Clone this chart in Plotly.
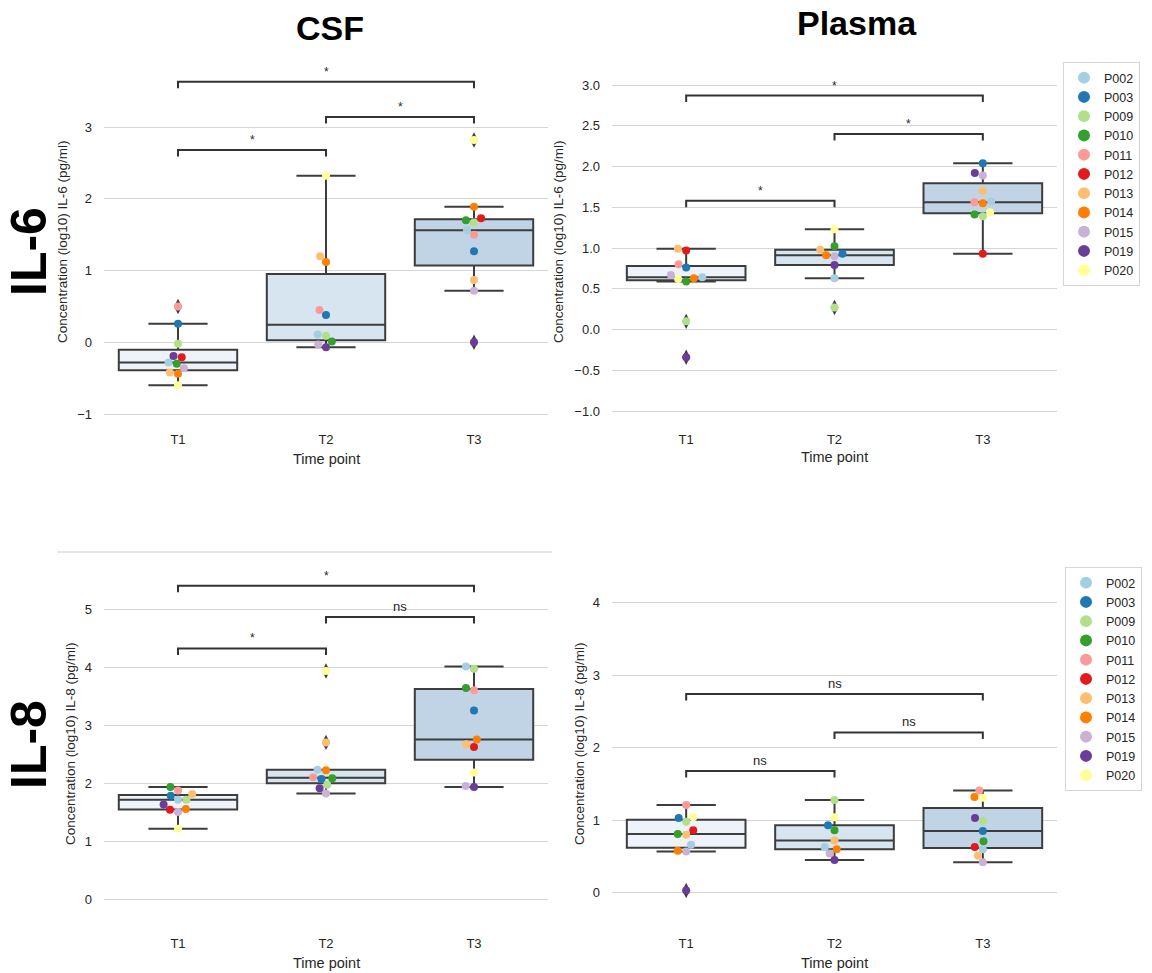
import numpy as np
import plotly.graph_objects as go

# ---------------- data ----------------
PARTICIPANTS = ["P002", "P003", "P009", "P010", "P011", "P012", "P013", "P014", "P015", "P019", "P020"]
TIME_POINTS = ["T1", "T2", "T3"]

# values in participant order (None = missing sample)
CSF_IL6_T1 = [-0.28, 0.26, -0.02, -0.30, 0.50, -0.21, -0.42, -0.44, -0.36, -0.19, -0.60]
CSF_IL6_T2 = [0.11, 0.38, 0.09, 0.01, 0.45, None, 1.20, 1.12, -0.03, -0.07, 2.32]
CSF_IL6_T3 = [1.56, 1.27, 1.67, 1.70, 1.50, 1.73, 0.87, 1.89, 0.72, 0.00, 2.82]

PLASMA_IL6_T1 = [0.64, 0.76, 0.10, 0.59, 0.80, 0.97, 0.99, 0.63, 0.67, -0.34, 0.62]
PLASMA_IL6_T2 = [0.63, 0.93, 0.27, 1.02, None, None, 0.98, 0.91, 0.90, 0.79, 1.23]
PLASMA_IL6_T3 = [1.57, 2.04, 1.39, 1.41, 1.56, 0.93, 1.70, 1.55, 1.89, 1.92, 1.44]

CSF_IL8_T1 = [1.71, 1.78, 1.71, 1.93, 1.87, 1.54, 1.81, 1.55, 1.50, 1.63, 1.21]
CSF_IL8_T2 = [2.23, 2.07, 1.97, 2.08, 2.10, None, 2.70, 2.22, 1.82, 1.91, 3.93]
CSF_IL8_T3 = [4.01, 3.25, 3.97, 3.64, 3.60, 2.62, 2.67, 2.75, 1.95, 1.93, 2.18]

PLASMA_IL8_T1 = [0.66, 1.03, 0.98, 0.81, 1.21, 0.86, 0.80, 0.58, 0.57, 0.03, 1.04]
PLASMA_IL8_T2 = [0.63, 0.93, 1.28, 0.86, None, None, 0.72, 0.60, 0.54, 0.45, 1.04]
PLASMA_IL8_T3 = [0.60, 0.85, 0.99, 0.71, 1.41, 0.63, 0.51, 1.32, 0.42, 1.03, 1.31]

# significance brackets: (from, to, level, label)
BRACKETS_CSF_IL6 = [(0, 1, 2.68, "*"), (1, 2, 3.14, "*"), (0, 2, 3.63, "*")]
BRACKETS_PLASMA_IL6 = [(0, 1, 1.58, "*"), (1, 2, 2.40, "*"), (0, 2, 2.87, "*")]
BRACKETS_CSF_IL8 = [(0, 1, 4.32, "*"), (1, 2, 4.86, "ns"), (0, 2, 5.40, "*")]
BRACKETS_PLASMA_IL8 = [(0, 1, 1.68, "ns"), (1, 2, 2.21, "ns"), (0, 2, 2.74, "ns")]

# ---------------- style ----------------
W, H = 1152, 973
COLORS = ["#a6cee3", "#1f78b4", "#b2df8a", "#33a02c", "#fb9a99", "#e31a1c",
          "#fdbf6f", "#ff7f00", "#cab2d6", "#6a3d9a", "#ffff99"]
BOX_FILLS = ["#edf3f8", "#d6e5f0", "#c1d4e5"]
LINE_DARK = "#3d3d3d"
TEXT = "#262626"
GRID = "#d6d6d6"
FONT = "Liberation Sans, Arial, sans-serif"
POINT_D = 8.0
CAT_PX = 148.0
TIP_PX = 6.5


def fx(px):
    return px / W


def fy(py):
    return 1 - py / H


PANELS = [
    dict(data=[CSF_IL6_T1, CSF_IL6_T2, CSF_IL6_T3], xdom=(104, 548), ydom=(60, 430),
         zero=342.3, ppu=71.75, dtick=1, fmt="", br=BRACKETS_CSF_IL6,
         ylabel="Concentration (log10) IL-6 (pg/ml)", ylabx=62, legend=None, xty=459),
    dict(data=[PLASMA_IL6_T1, PLASMA_IL6_T2, PLASMA_IL6_T3], xdom=(612, 1057), ydom=(60, 430),
         zero=329.5, ppu=81.5, dtick=0.5, fmt=".1f", br=BRACKETS_PLASMA_IL6,
         ylabel="Concentration (log10) IL-6 (pg/ml)", ylabx=558, legend="legend", xty=457),
    dict(data=[CSF_IL8_T1, CSF_IL8_T2, CSF_IL8_T3], xdom=(104, 548), ydom=(560, 934),
         zero=899.0, ppu=58.0, dtick=1, fmt="", br=BRACKETS_CSF_IL8,
         ylabel="Concentration (log10) IL-8 (pg/ml)", ylabx=70, legend=None, xty=963),
    dict(data=[PLASMA_IL8_T1, PLASMA_IL8_T2, PLASMA_IL8_T3], xdom=(612, 1057), ydom=(560, 934),
         zero=892.7, ppu=72.5, dtick=1, fmt="", br=BRACKETS_PLASMA_IL8,
         ylabel="Concentration (log10) IL-8 (pg/ml)", ylabx=579, legend="legend2", xty=963),
]


def swarm_offsets(values, ppu, d=POINT_D):
    """Simple beeswarm (pixel space) -> horizontal offsets in px."""
    idx = [i for i, v in enumerate(values) if v is not None]
    ypx = {i: values[i] * ppu for i in idx}
    order = sorted(idx, key=lambda i: ypx[i])
    placed = []
    offs = {}
    for i in order:
        y = ypx[i]
        neigh = [(px, py) for (px, py) in reversed(placed) if abs(y - py) < d]
        cands = [0.0]
        left_first = True
        for px, py in neigh:
            dx = np.sqrt(max(d * d - (y - py) ** 2, 0)) * 1.05
            pair = [px - dx, px + dx] if left_first else [px + dx, px - dx]
            cands.extend(pair)
            left_first = not left_first
        cands = sorted(cands, key=abs)
        chosen = cands[-1]
        for c in cands:
            if all((c - px) ** 2 + (y - py) ** 2 >= d * d * 0.999 for px, py in neigh):
                chosen = c
                break
        offs[i] = chosen
        placed.append((chosen, y))
    return offs


fig = go.Figure()
annotations = []
layout_axes = {}

for p_i, P in enumerate(PANELS):
    n = p_i + 1
    xa = "x" if n == 1 else f"x{n}"
    ya = "y" if n == 1 else f"y{n}"
    top, bot = P["ydom"]
    yr = [(P["zero"] - bot) / P["ppu"], (P["zero"] - top) / P["ppu"]]

    layout_axes["xaxis" if n == 1 else f"xaxis{n}"] = dict(
        domain=[fx(P["xdom"][0]), fx(P["xdom"][1])], range=[-0.5, 2.5],
        tickvals=[0, 1, 2], ticktext=TIME_POINTS, showgrid=False, zeroline=False,
        showline=False, ticks="", tickfont=dict(size=13, color=TEXT), anchor=ya,
        fixedrange=True)
    layout_axes["yaxis" if n == 1 else f"yaxis{n}"] = dict(
        domain=[fy(bot), fy(top)], range=yr, tick0=0, dtick=P["dtick"],
        tickformat=P["fmt"], showgrid=True, gridcolor=GRID, gridwidth=1.3,
        zeroline=False, showline=False, ticks="", ticklabelstandoff=11,
        tickfont=dict(size=13, color=TEXT), anchor=xa, fixedrange=True)

    # boxes + outliers
    for k, series in enumerate(P["data"]):
        vals = np.array([v for v in series if v is not None], dtype=float)
        q1, med, q3 = np.percentile(vals, [25, 50, 75])
        iqr = q3 - q1
        lo_f, hi_f = q1 - 1.5 * iqr, q3 + 1.5 * iqr
        inside = vals[(vals >= lo_f) & (vals <= hi_f)]
        out = vals[(vals < lo_f) | (vals > hi_f)]
        fig.add_trace(go.Box(
            x=[k], q1=[q1], median=[med], q3=[q3],
            lowerfence=[inside.min()], upperfence=[inside.max()],
            width=0.8, whiskerwidth=0.5, fillcolor=BOX_FILLS[k],
            line=dict(color=LINE_DARK, width=2), boxpoints=False,
            showlegend=False, hoverinfo="skip", xaxis=xa, yaxis=ya))
        if len(out):
            fig.add_trace(go.Scatter(
                x=[k] * len(out), y=out, mode="markers",
                marker=dict(symbol="diamond-tall", size=11, color=LINE_DARK),
                showlegend=False, hoverinfo="skip", xaxis=xa, yaxis=ya))

    # swarm points
    offsets = [swarm_offsets(series, P["ppu"]) for series in P["data"]]
    for j, name in enumerate(PARTICIPANTS):
        xs, ys = [], []
        for k, series in enumerate(P["data"]):
            v = series[j]
            if v is None:
                continue
            xs.append(k + offsets[k][j] / CAT_PX)
            ys.append(v)
        kw = dict(showlegend=False)
        if P["legend"]:
            kw = dict(showlegend=True, legend=P["legend"])
        fig.add_trace(go.Scatter(
            x=xs, y=ys, mode="markers", name=name,
            marker=dict(size=POINT_D, color=COLORS[j], line=dict(width=0)),
            xaxis=xa, yaxis=ya, **kw))

    # brackets
    tip = TIP_PX / P["ppu"]
    for (a, b, lvl, lab) in P["br"]:
        fig.add_trace(go.Scatter(
            x=[a, a, b, b], y=[lvl - tip, lvl, lvl, lvl - tip], mode="lines",
            line=dict(color="#333333", width=2), showlegend=False,
            hoverinfo="skip", xaxis=xa, yaxis=ya))
        annotations.append(dict(
            x=(a + b) / 2, y=lvl, xref=xa, yref=ya, text=lab, showarrow=False,
            yanchor="bottom", yshift=1,
            font=dict(size=12 if lab == "*" else 13, color=TEXT)))

    # y title
    annotations.append(dict(
        x=fx(P["ylabx"]), y=fy((top + bot) / 2 - 3), xref="paper", yref="paper",
        text=P["ylabel"], textangle=-90, showarrow=False,
        xanchor="center", yanchor="middle", font=dict(size=13.5, color=TEXT)))
    # x title
    annotations.append(dict(
        x=fx((P["xdom"][0] + P["xdom"][1]) / 2), y=fy(P["xty"]), xref="paper",
        yref="paper", text="Time point", showarrow=False, xanchor="center",
        yanchor="middle", font=dict(size=14.5, color=TEXT)))

# column / row titles
for txt, x, y in [("CSF", 330, 28), ("Plasma", 857, 23)]:
    annotations.append(dict(x=fx(x), y=fy(y), xref="paper", yref="paper", text=txt,
                            showarrow=False, xanchor="center", yanchor="middle",
                            font=dict(size=34, color="black", weight="bold")))
for txt, x, y in [("IL-6", 29, 252), ("IL-8", 29, 745)]:
    annotations.append(dict(x=fx(x), y=fy(y), xref="paper", yref="paper", text=txt,
                            textangle=-90, showarrow=False, xanchor="center",
                            yanchor="middle",
                            font=dict(size=50, color="black", weight="bold")))

legend_style = dict(bgcolor="white", bordercolor="#d6d6d6", borderwidth=1,
                    font=dict(size=12.5, color=TEXT), itemsizing="constant",
                    xanchor="left", yanchor="top", tracegroupgap=0)

fig.update_layout(
    width=W, height=H, margin=dict(l=0, r=0, t=0, b=0),
    paper_bgcolor="white", plot_bgcolor="white",
    font=dict(family=FONT, color=TEXT),
    annotations=annotations,
    shapes=[dict(type="line", xref="paper", yref="paper", x0=fx(57), x1=fx(552),
                 y0=fy(552), y1=fy(552), line=dict(color="#dddddd", width=1.3))],
    legend=dict(x=fx(1063), y=fy(62), **legend_style),
    legend2=dict(x=fx(1065), y=fy(567), **legend_style),
    **layout_axes,
)

fig.write_html("out.html", config={"displayModeBar": False},
               post_script="document.body.style.margin='0';")
